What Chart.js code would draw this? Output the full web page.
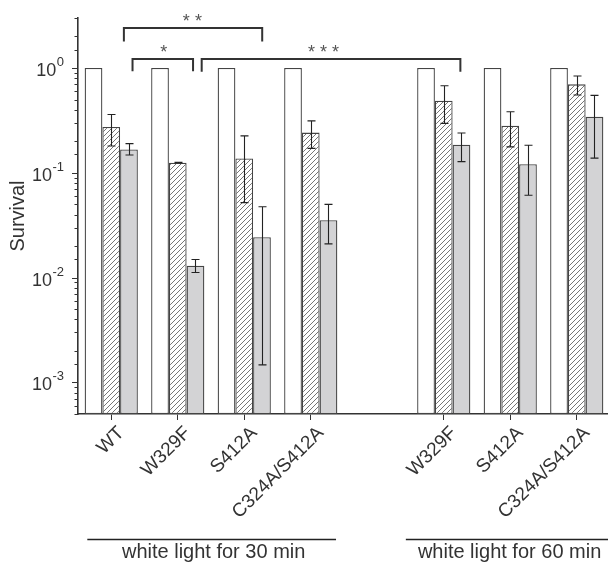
<!DOCTYPE html>
<html><head><meta charset="utf-8">
<script src="https://cdn.jsdelivr.net/npm/chart.js@4.4.1/dist/chart.umd.min.js"></script>
<style>
html,body{margin:0;padding:0;background:#fff;overflow:hidden}
#wrap{width:608px;height:563px;overflow:hidden;position:relative;background:#fff}
canvas{display:block}
</style></head>
<body><div id="wrap"><canvas id="c" width="620" height="563"></canvas></div>
<script>
// ---- data ----
const categories = ['WT', 'W329F', 'S412A', 'C324A/S412A', '', 'W329F', 'S412A', 'C324A/S412A'];
const controlValues = [1, 1, 1, 1, null, 1, 1, 1];
const hatchValues = [0.274, 0.125, 0.137, 0.242, null, 0.487, 0.281, 0.698];
const hatchLow    = [0.18, 0.124, 0.052, 0.171, null, 0.296, 0.177, 0.552];
const hatchHigh   = [0.36, 0.126, 0.225, 0.313, null, 0.677, 0.382, 0.838];
const grayValues  = [0.167, 0.0130, 0.0243, 0.0353, null, 0.185, 0.121, 0.342];
const grayLow     = [0.148, 0.0112, 0.00147, 0.021, null, 0.128, 0.061, 0.138];
const grayHigh    = [0.19, 0.0149, 0.0475, 0.050, null, 0.240, 0.183, 0.548];
const yTickValues = [1, 0.1, 0.01, 0.001];
const yTickExponents = ['0', '-1', '-2', '-3'];
const yAxisTitle = 'Survival';
const groupLabels = ['white light for 30 min', 'white light for 60 min'];
const sigLabels = ['**', '*', '***'];

// annotation placement (category index units / data values)
const sigBrackets = [
  {from: 0.19, to: 2.27, top: 2.4, leg: 1.79, textX: 1.22},
  {from: 0.32, to: 1.23, top: 1.22, leg: 0.93, textX: 0.79},
  {from: 1.36, to: 5.25, top: 1.22, leg: 0.92, textX: 3.19}
];
const groupSpans = [[-0.36, 3.38, 1.54], [4.43, 7.7, 5.99]];

const FONT = "'Liberation Sans', Arial, sans-serif";
const INK = '#333333';

function makeHatch(ctx) {
  const s = 5;
  const p = document.createElement('canvas');
  p.width = s; p.height = s;
  const g = p.getContext('2d');
  g.fillStyle = '#ffffff'; g.fillRect(0, 0, s, s);
  g.strokeStyle = '#666666'; g.lineWidth = 0.9;
  g.beginPath();
  g.moveTo(0, s); g.lineTo(s, 0);
  g.moveTo(-1, 1); g.lineTo(1, -1);
  g.moveTo(s - 1, s + 1); g.lineTo(s + 1, s - 1);
  g.stroke();
  return ctx.createPattern(p, 'repeat');
}

const canvas = document.getElementById('c');
const ctx0 = canvas.getContext('2d');
const hatch = makeHatch(ctx0);

const overlay = {
  id: 'overlay',
  afterDatasetsDraw(chart) {
    const ctx = chart.ctx;
    const y = chart.scales.y;
    ctx.save();
    const errs = [[1, hatchLow, hatchHigh], [2, grayLow, grayHigh]];
    ctx.strokeStyle = '#222'; ctx.lineWidth = 1.1;
    errs.forEach(([di, lo, hi]) => {
      const meta = chart.getDatasetMeta(di);
      meta.data.forEach((el, i) => {
        if (lo[i] == null) return;
        const cx = Math.round(el.x) + 0.5;
        const yl = y.getPixelForValue(lo[i]), yh = y.getPixelForValue(hi[i]);
        ctx.beginPath();
        ctx.moveTo(cx, yl); ctx.lineTo(cx, yh);
        ctx.moveTo(cx - 4, yl); ctx.lineTo(cx + 4, yl);
        ctx.moveTo(cx - 4, yh); ctx.lineTo(cx + 4, yh);
        ctx.stroke();
      });
    });
    ctx.restore();
  },
  afterDraw(chart) {
    const ctx = chart.ctx;
    const x = chart.scales.x, y = chart.scales.y;
    const area = chart.chartArea;
    ctx.save();
    // y ticks (major/minor)
    ctx.strokeStyle = INK; ctx.lineWidth = 1;
    const ax = area.left;
    y.ticks.forEach(t => {
      const v = t.value;
      const lg = Math.log10(v);
      const major = Math.abs(lg - Math.round(lg)) < 1e-9;
      const py = Math.round(y.getPixelForValue(v)) + 0.5;
      ctx.beginPath();
      ctx.moveTo(ax, py); ctx.lineTo(ax - (major ? 6 : 3.5), py);
      ctx.stroke();
    });
    // y tick labels with superscripts
    ctx.fillStyle = INK;
    ctx.textBaseline = 'alphabetic';
    yTickValues.forEach((v, i) => {
      const py = y.getPixelForValue(v);
      const supX = ax - 14;
      ctx.font = '13px ' + FONT;
      ctx.textAlign = 'right';
      const sw = ctx.measureText(yTickExponents[i]).width;
      ctx.fillText(yTickExponents[i], supX, py - 2);
      ctx.font = '18px ' + FONT;
      ctx.fillText('10', supX - sw - 0.5, py + 8);
    });
    // significance brackets
    ctx.strokeStyle = '#333'; ctx.lineWidth = 2;
    ctx.fillStyle = '#555';
    ctx.textAlign = 'center';
    sigBrackets.forEach((b, i) => {
      const x1 = x.getPixelForValue(b.from), x2 = x.getPixelForValue(b.to);
      const yt = Math.round(y.getPixelForValue(b.top)), yl = y.getPixelForValue(b.leg);
      ctx.beginPath();
      ctx.moveTo(x1, yl); ctx.lineTo(x1, yt); ctx.lineTo(x2, yt); ctx.lineTo(x2, yl);
      ctx.stroke();
      ctx.font = '18px ' + FONT;
      const tx = x.getPixelForValue(b.textX);
      const s = sigLabels[i];
      ctx.fillText(s.split('').join(' '), tx, yt - 1);
    });
    // group lines and labels
    ctx.strokeStyle = '#222'; ctx.lineWidth = 1.5;
    ctx.fillStyle = INK;
    ctx.font = '20px ' + FONT;
    ctx.textAlign = 'center';
    groupLabels.forEach((lab, i) => {
      const [a, b, c] = groupSpans[i];
      const ly = area.bottom + 125.5;
      ctx.beginPath();
      ctx.moveTo(x.getPixelForValue(a), ly); ctx.lineTo(x.getPixelForValue(b), ly);
      ctx.stroke();
      ctx.fillText(lab, x.getPixelForValue(c), area.bottom + 144);
    });
    ctx.restore();
  }
};

new Chart(canvas, {
  type: 'bar',
  data: {
    labels: categories,
    datasets: [
      {data: controlValues, backgroundColor: '#ffffff', borderColor: '#444', borderWidth: 1.3, borderSkipped: false},
      {data: hatchValues, backgroundColor: hatch, borderColor: '#444', borderWidth: 1.3, borderSkipped: false},
      {data: grayValues, backgroundColor: '#d3d3d5', borderColor: '#444', borderWidth: 1.3, borderSkipped: false}
    ]
  },
  options: {
    responsive: false,
    animation: false,
    devicePixelRatio: 1,
    layout: {padding: {left: 0, right: 10, top: 18, bottom: 0}},
    datasets: {bar: {categoryPercentage: 0.8, barPercentage: 1.0, base: 0.0005}},
    plugins: {legend: {display: false}, tooltip: {enabled: false}},
    scales: {
      x: {
        type: 'category',
        offset: true,
        grid: {display: true, drawOnChartArea: false, offset: false, tickLength: 6,
               tickColor: c => (categories[c.index] === '' ? 'rgba(0,0,0,0)' : INK), tickWidth: 1},
        border: {display: true, color: INK, width: 1.6},
        ticks: {color: INK, font: {family: FONT, size: 19}, maxRotation: 45, minRotation: 45, padding: 2, autoSkip: false, labelOffset: 10},
        afterFit: s => { s.height = 149; }
      },
      y: {
        type: 'logarithmic',
        min: 0.0005,
        max: 3,
        grid: {display: false},
        border: {display: true, color: INK, width: 1.6},
        ticks: {display: false},
        title: {display: true, text: yAxisTitle, color: INK, font: {family: FONT, size: 20}, padding: {top: 6, bottom: 0}},
        afterFit: s => { s.width = 78; }
      }
    }
  },
  plugins: [overlay]
});
</script>
</body></html>
